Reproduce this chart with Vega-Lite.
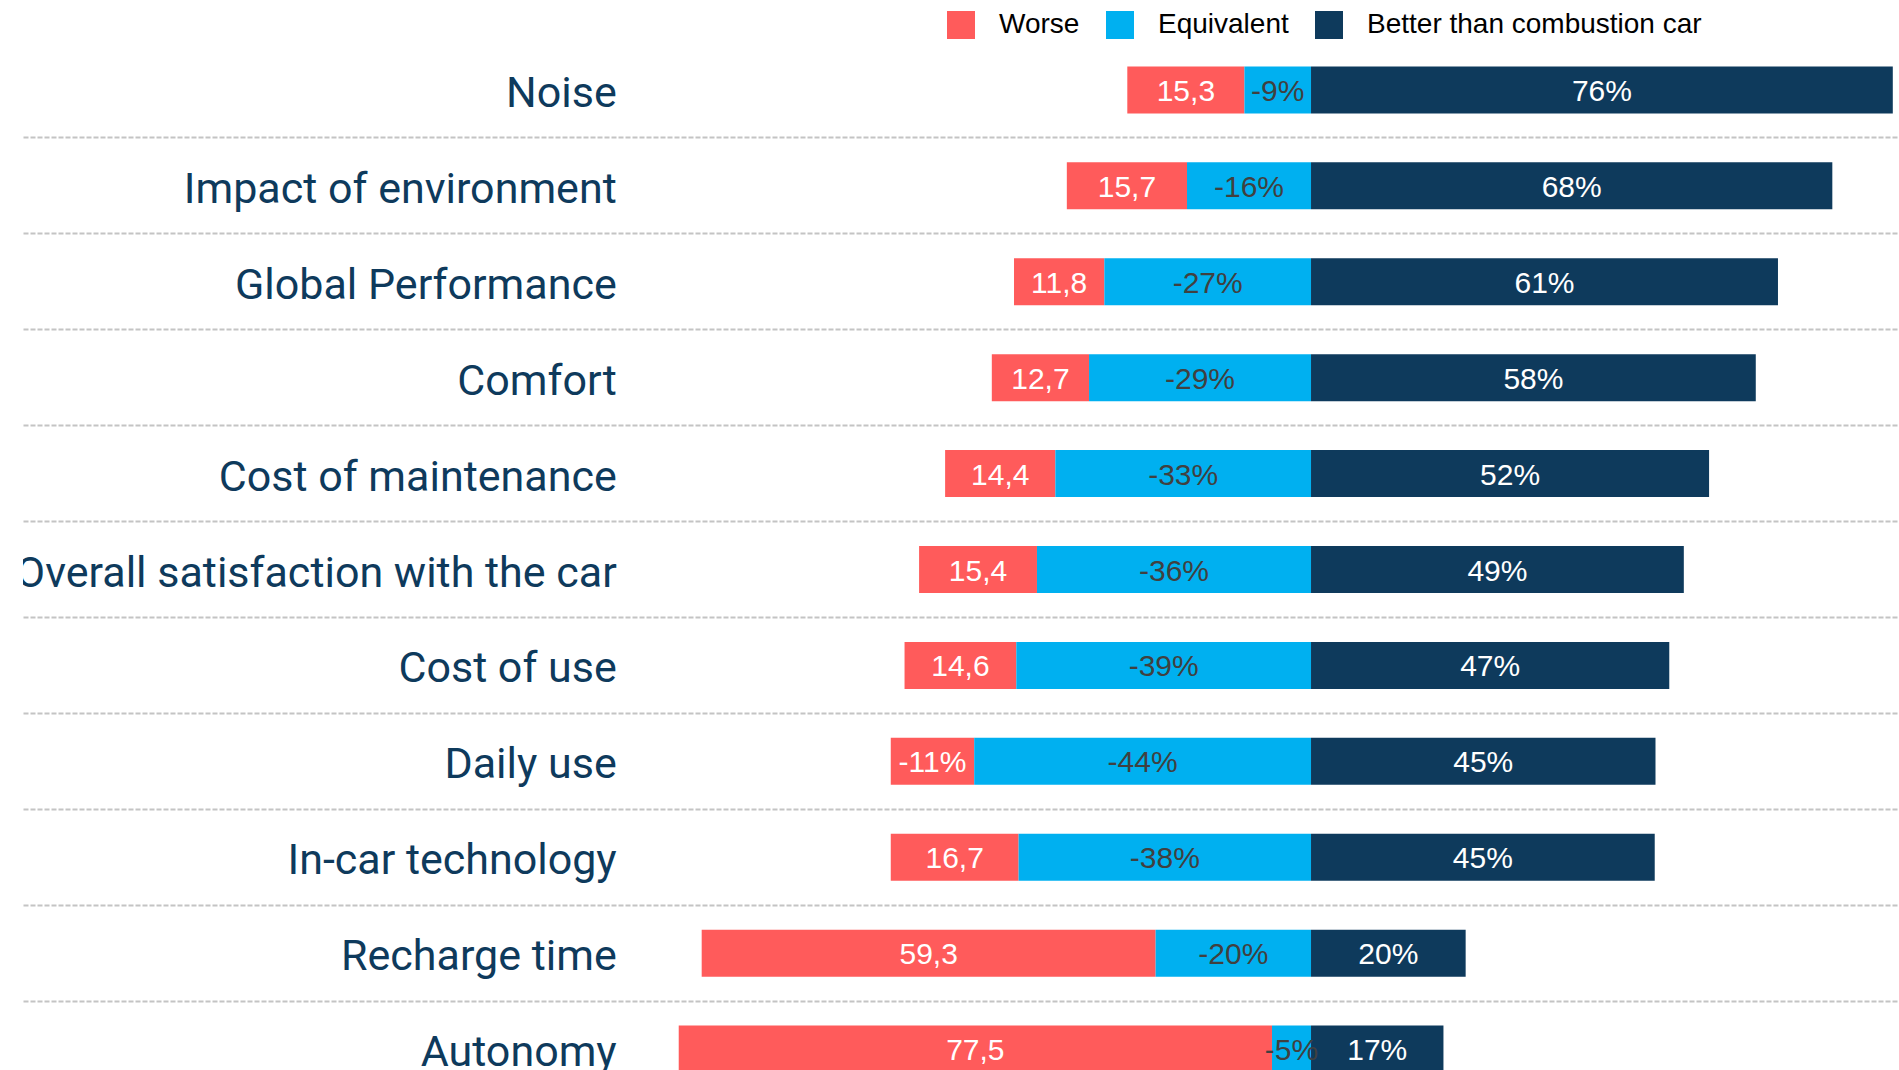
{
  "$schema": "https://vega.github.io/schema/vega-lite/v6.json",
  "width": 1876,
  "height": 1055,
  "padding": {"left": 23, "top": 42, "right": 0, "bottom": 0},
  "autosize": {"type": "none"},
  "background": "white",
  "config": {"view": {"stroke": null}},
  "data": {
    "values": [
      {"cat": "Noise", "type": "Worse", "value": -15.3, "label": "15,3"},
      {"cat": "Noise", "type": "Equivalent", "value": -8.7, "label": "-9%"},
      {"cat": "Noise", "type": "Better than combustion car", "value": 76.0, "label": "76%"},
      {"cat": "Impact of environment", "type": "Worse", "value": -15.7, "label": "15,7"},
      {"cat": "Impact of environment", "type": "Equivalent", "value": -16.2, "label": "-16%"},
      {"cat": "Impact of environment", "type": "Better than combustion car", "value": 68.1, "label": "68%"},
      {"cat": "Global Performance", "type": "Worse", "value": -11.8, "label": "11,8"},
      {"cat": "Global Performance", "type": "Equivalent", "value": -27.0, "label": "-27%"},
      {"cat": "Global Performance", "type": "Better than combustion car", "value": 61.0, "label": "61%"},
      {"cat": "Comfort", "type": "Worse", "value": -12.7, "label": "12,7"},
      {"cat": "Comfort", "type": "Equivalent", "value": -29.0, "label": "-29%"},
      {"cat": "Comfort", "type": "Better than combustion car", "value": 58.1, "label": "58%"},
      {"cat": "Cost of maintenance", "type": "Worse", "value": -14.4, "label": "14,4"},
      {"cat": "Cost of maintenance", "type": "Equivalent", "value": -33.4, "label": "-33%"},
      {"cat": "Cost of maintenance", "type": "Better than combustion car", "value": 52.0, "label": "52%"},
      {"cat": "Overall satisfaction with the car", "type": "Worse", "value": -15.4, "label": "15,4"},
      {"cat": "Overall satisfaction with the car", "type": "Equivalent", "value": -35.8, "label": "-36%"},
      {"cat": "Overall satisfaction with the car", "type": "Better than combustion car", "value": 48.7, "label": "49%"},
      {"cat": "Cost of use", "type": "Worse", "value": -14.6, "label": "14,6"},
      {"cat": "Cost of use", "type": "Equivalent", "value": -38.5, "label": "-39%"},
      {"cat": "Cost of use", "type": "Better than combustion car", "value": 46.8, "label": "47%"},
      {"cat": "Daily use", "type": "Worse", "value": -10.9, "label": "-11%"},
      {"cat": "Daily use", "type": "Equivalent", "value": -44.0, "label": "-44%"},
      {"cat": "Daily use", "type": "Better than combustion car", "value": 45.0, "label": "45%"},
      {"cat": "In-car technology", "type": "Worse", "value": -16.7, "label": "16,7"},
      {"cat": "In-car technology", "type": "Equivalent", "value": -38.2, "label": "-38%"},
      {"cat": "In-car technology", "type": "Better than combustion car", "value": 44.9, "label": "45%"},
      {"cat": "Recharge time", "type": "Worse", "value": -59.3, "label": "59,3"},
      {"cat": "Recharge time", "type": "Equivalent", "value": -20.3, "label": "-20%"},
      {"cat": "Recharge time", "type": "Better than combustion car", "value": 20.2, "label": "20%"},
      {"cat": "Autonomy", "type": "Worse", "value": -77.5, "label": "77,5"},
      {"cat": "Autonomy", "type": "Equivalent", "value": -5.1, "label": "-5%"},
      {"cat": "Autonomy", "type": "Better than combustion car", "value": 17.3, "label": "17%"}
    ]
  },
  "transform": [
    {"stack": "value", "groupby": ["cat"], "sort": [{"field": "type", "order": "ascending"}], "as": ["v0", "v1"], "offset": "zero"},
    {"calculate": "(datum.v0 + datum.v1) / 2", "as": "mid"}
  ],
  "encoding": {
    "y": {
      "field": "cat",
      "type": "nominal",
      "sort": ["Noise", "Impact of environment", "Global Performance", "Comfort", "Cost of maintenance", "Overall satisfaction with the car", "Cost of use", "Daily use", "In-car technology", "Recharge time", "Autonomy"],
      "scale": {"paddingInner": 0, "paddingOuter": 0},
      "axis": {
        "labels": false,
        "ticks": false,
        "domain": false,
        "title": null,
        "grid": true,
        "bandPosition": 0,
        "gridDash": [5, 2],
        "gridColor": "#C4C4C4",
        "gridWidth": 2,
        "gridOpacity": {"condition": {"test": "datum.value === 'Noise'", "value": 0}, "value": 1}
      }
    }
  },
  "layer": [
    {
      "mark": {"type": "bar", "height": {"band": 0.49}},
      "encoding": {
        "x": {"field": "v0", "type": "quantitative", "scale": {"domain": [-168.26, 76.81], "nice": false, "zero": false}, "axis": null},
        "x2": {"field": "v1"},
        "color": {
          "field": "type",
          "type": "nominal",
          "scale": {"domain": ["Worse", "Equivalent", "Better than combustion car"], "range": ["#FF5B5B", "#00B0F0", "#0E3A5C"]},
          "legend": {
            "orient": "none",
            "legendX": 924,
            "legendY": -31,
            "direction": "horizontal",
            "title": null,
            "symbolType": "square",
            "symbolSize": 784,
            "symbolStrokeWidth": 0,
            "symbolOpacity": 1,
            "labelFont": "Liberation Sans",
            "labelFontSize": 28,
            "labelColor": "#000000",
            "labelOffset": 24,
            "labelLimit": 0,
            "columnPadding": 26
          }
        }
      }
    },
    {
      "mark": {"type": "text", "font": "Liberation Sans", "fontSize": 30, "baseline": "middle", "align": "center", "dy": 2},
      "encoding": {
        "x": {"field": "mid", "type": "quantitative"},
        "text": {"field": "label"},
        "color": {"condition": {"test": "datum.type === 'Equivalent'", "value": "#404040"}, "value": "#FFFFFF"}
      }
    },
    {
      "transform": [{"filter": "datum.type === 'Worse'"}],
      "mark": {"type": "text", "align": "right", "baseline": "middle", "font": "Roboto", "fontSize": 43, "color": "#0E3A5C", "clip": true, "dy": 4},
      "encoding": {
        "x": {"datum": -90.7},
        "text": {"field": "cat"}
      }
    }
  ]
}
